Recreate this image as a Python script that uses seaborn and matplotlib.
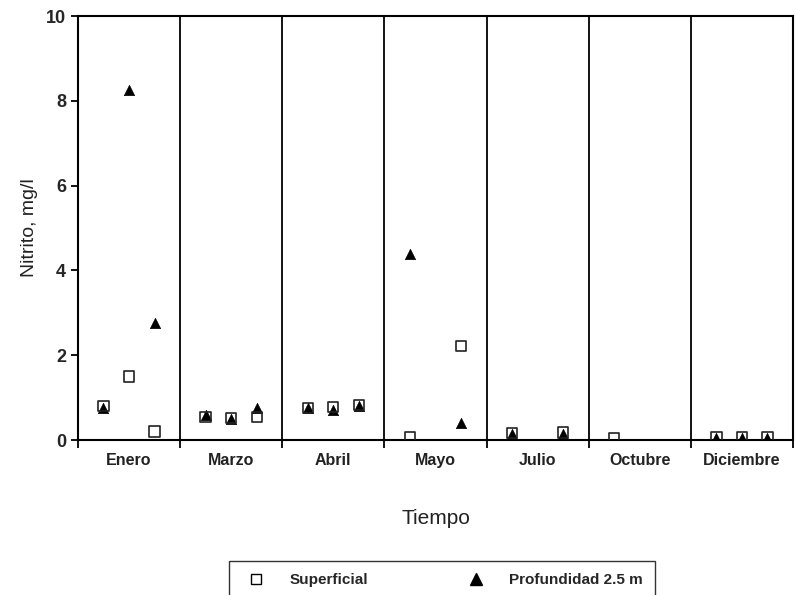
import pandas as pd
import matplotlib
matplotlib.use("Agg")
import matplotlib.pyplot as plt
import seaborn as sns
from matplotlib.lines import Line2D

# Data
meses = ["Enero", "Marzo", "Abril", "Mayo", "Julio", "Octubre", "Diciembre"]

# each sample: month index, sample slot within the month (0, 1, 2)
mes_idx = [0, 0, 0, 1, 1, 1, 2, 2, 2, 3, 3, 4, 4, 5, 6, 6, 6]
slot = [0, 1, 2, 0, 1, 2, 0, 1, 2, 0, 2, 0, 2, 0, 0, 1, 2]
superficial = [0.80, 1.50, 0.20, 0.54, 0.52, 0.54, 0.76, 0.78, 0.82,
               0.07, 2.22, 0.16, 0.18, 0.05, 0.06, 0.06, 0.06]
profundidad = [0.75, 8.25, 2.77, 0.59, 0.50, 0.75, 0.75, 0.70, 0.80,
               4.38, 0.41, 0.13, 0.15, None, 0.05, 0.05, 0.05]

sns.set_theme(style="white")
plt.rcParams["font.family"] = ["Liberation Sans", "DejaVu Sans"]

df = pd.DataFrame({"mes": mes_idx, "slot": slot,
                   "Superficial": superficial, "Profundidad": profundidad})
df["x"] = df["mes"] + 0.25 + 0.25 * df["slot"]

fig = plt.figure(figsize=(7.95, 5.95), dpi=100)
ax = fig.add_axes([0.098, 0.2605, 0.8995, 0.7125])

sns.scatterplot(data=df, x="x", y="Profundidad", marker="^", s=55,
                color="black", edgecolor="black", linewidth=0.5, ax=ax, zorder=3)
sns.scatterplot(data=df, x="x", y="Superficial", marker="s", s=55,
                facecolor="none", edgecolor="#222222", linewidth=1.2, ax=ax, zorder=4)

# month separators
for i in range(1, len(meses)):
    ax.axvline(i, color="black", lw=1.3, zorder=1)

ax.set_xlim(0, len(meses))
ax.set_ylim(0, 10)
ax.set_xticks(range(len(meses) + 1))
ax.set_xticklabels([])
ax.set_xticks([i + 0.5 for i in range(len(meses))], minor=True)
ax.set_xticklabels(meses, minor=True, fontsize=11.5, fontweight="bold", color="#222222")
ax.tick_params(axis="x", which="major", direction="out", length=6, width=1.3,
               bottom=True, color="black")
ax.tick_params(axis="x", which="minor", length=0, pad=9)
ax.set_yticks([0, 2, 4, 6, 8, 10])
ax.set_yticklabels(["0", "2", "4", "6", "8", "10"], fontsize=13, fontweight="bold")
ax.tick_params(axis="y", direction="out", length=5, width=1.3, left=True, color="black")

for sp in ax.spines.values():
    sp.set_color("black")
    sp.set_linewidth(1.5)

ax.set_xlabel("Tiempo", fontsize=15, labelpad=30, color="#222222")
ax.set_ylabel("Nitrito, mg/l", fontsize=14, labelpad=6, color="#222222")

handles = [
    Line2D([0], [0], marker="s", linestyle="", markerfacecolor="none",
           markeredgecolor="black", markersize=7, label="Superficial"),
    Line2D([0], [0], marker="^", linestyle="", color="black",
           markersize=8, label="Profundidad 2.5 m"),
]
leg = fig.legend(handles=handles, loc="center", bbox_to_anchor=(442 / 795, 1 - 580 / 595),
                 ncol=2, frameon=True, prop={"size": 11, "weight": "bold"},
                 columnspacing=6, handletextpad=1.2,
                 borderpad=0.8, fancybox=False)
leg.get_frame().set_edgecolor("black")
leg.get_frame().set_linewidth(1.0)

fig.savefig("out.png", dpi=100)
